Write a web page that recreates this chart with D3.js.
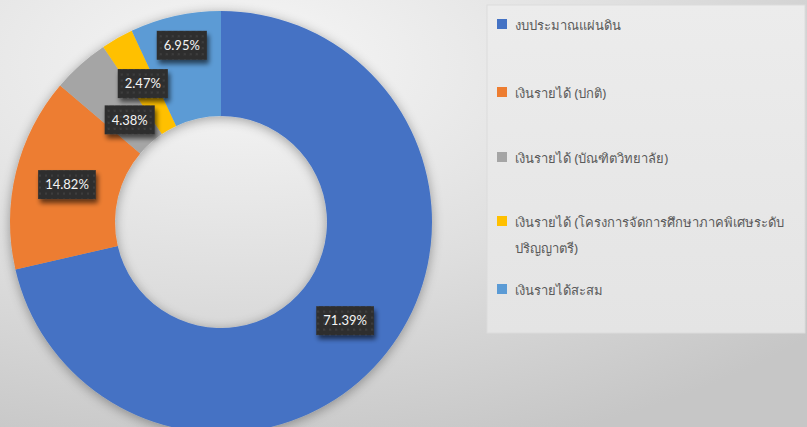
<!DOCTYPE html>
<html>
<head>
<meta charset="utf-8">
<script src="https://cdn.jsdelivr.net/npm/d3@7"></script>
<style>
  html, body { margin: 0; padding: 0; background: #d8d8d8; }
  svg { display: block; }
</style>
</head>
<body>
<svg id="chart" width="807" height="427"></svg>
<script>
// Budget sources (share of total, %)
const categories = [
  "งบประมาณแผ่นดิน",
  "เงินรายได้ (ปกติ)",
  "เงินรายได้ (บัณฑิตวิทยาลัย)",
  "เงินรายได้ (โครงการจัดการศึกษาภาคพิเศษระดับปริญญาตรี)",
  "เงินรายได้สะสม"
];
const values = [71.39, 14.82, 4.38, 2.47, 6.95];
const valueLabels = ["71.39%", "14.82%", "4.38%", "2.47%", "6.95%"];
const colors = ["#4472C4", "#ED7D31", "#A5A5A5", "#FFC000", "#5B9BD5"];

const W = 807, H = 427;
const svg = d3.select("#chart");
const defs = svg.append("defs");

// background wash
const bg = defs.append("radialGradient").attr("id", "bgGrad")
  .attr("cx", 0.3).attr("cy", 0.15).attr("r", 0.95);
bg.append("stop").attr("offset", "0%").attr("stop-color", "#f7f7f7");
bg.append("stop").attr("offset", "55%").attr("stop-color", "#dedede");
bg.append("stop").attr("offset", "100%").attr("stop-color", "#c6c6c6");
svg.append("rect").attr("width", W).attr("height", H).attr("fill", "url(#bgGrad)");

// soft shadow for the ring
const sh = defs.append("filter").attr("id", "ringShadow")
  .attr("x", "-20%").attr("y", "-20%").attr("width", "140%").attr("height", "140%");
sh.append("feGaussianBlur").attr("in", "SourceAlpha").attr("stdDeviation", 6).attr("result", "b");
sh.append("feOffset").attr("in", "b").attr("dx", 0).attr("dy", 2).attr("result", "o");
sh.append("feComponentTransfer").attr("in", "o").attr("result", "s")
  .append("feFuncA").attr("type", "linear").attr("slope", 0.35);
const shm = sh.append("feMerge");
shm.append("feMergeNode").attr("in", "s");
shm.append("feMergeNode").attr("in", "SourceGraphic");

// shadow for label boxes
const ls = defs.append("filter").attr("id", "boxShadow")
  .attr("x", "-30%").attr("y", "-40%").attr("width", "170%").attr("height", "190%");
ls.append("feGaussianBlur").attr("in", "SourceAlpha").attr("stdDeviation", 2.5).attr("result", "b");
ls.append("feOffset").attr("in", "b").attr("dx", 2).attr("dy", 4).attr("result", "o");
ls.append("feComponentTransfer").attr("in", "o").attr("result", "s")
  .append("feFuncA").attr("type", "linear").attr("slope", 0.6);
const lsm = ls.append("feMerge");
lsm.append("feMergeNode").attr("in", "s");
lsm.append("feMergeNode").attr("in", "SourceGraphic");

// dotted texture for label boxes
const pat = defs.append("pattern").attr("id", "dots")
  .attr("width", 6).attr("height", 6).attr("patternUnits", "userSpaceOnUse");
pat.append("rect").attr("width", 6).attr("height", 6).attr("fill", "#2f2f2f");
pat.append("circle").attr("cx", 3).attr("cy", 3).attr("r", 0.8).attr("fill", "#505050");

// legend panel
const lgX = 487, lgY = 5, lgW = 318, lgH = 328;
const lgGrad = defs.append("linearGradient").attr("id", "lgGrad")
  .attr("x1", 0).attr("y1", 0).attr("x2", 0).attr("y2", 1);
lgGrad.append("stop").attr("offset", "0%").attr("stop-color", "#ececec");
lgGrad.append("stop").attr("offset", "100%").attr("stop-color", "#e4e4e4");
svg.append("rect").attr("x", lgX).attr("y", lgY).attr("width", lgW).attr("height", lgH)
  .attr("fill", "url(#lgGrad)").attr("stroke", "#dcdcdc").attr("stroke-width", 1);

// donut
const cx = 221, cy = 222, outerR = 211, innerR = 106;
const pie = d3.pie().sort(null).value(d => d);
const arcs = pie(values);
const arc = d3.arc().innerRadius(innerR).outerRadius(outerR);

const g = svg.append("g").attr("transform", `translate(${cx},${cy})`);
g.append("g").attr("filter", "url(#ringShadow)")
  .selectAll("path").data(arcs).join("path")
  .attr("d", arc)
  .attr("fill", (d, i) => colors[i]);

// labels sit on the ring centroid; the narrow slices are nudged apart
const labelR = d3.scaleOrdinal().domain(d3.range(values.length))
  .range([(innerR + outerR) / 2, (innerR + outerR) / 2, 137, 159, 181]);
const boxH = 29;
const lab = g.append("g").selectAll("g").data(arcs).join("g")
  .attr("transform", (d, i) => {
    const a = (d.startAngle + d.endAngle) / 2;
    const r = labelR(i);
    return `translate(${r * Math.sin(a)},${-r * Math.cos(a)})`;
  });
lab.each(function(d, i) {
  const sel = d3.select(this);
  const t = sel.append("text")
    .attr("text-anchor", "middle").attr("dy", "0.36em")
    .attr("font-family", "Lato, 'Open Sans', sans-serif")
    .attr("font-size", 13).attr("font-weight", 400)
    .attr("fill", "#f4f4f4")
    .text(valueLabels[i]);
  const w = t.node().getComputedTextLength() + 14;
  sel.insert("rect", "text")
    .attr("x", -w / 2).attr("y", -boxH / 2).attr("width", w).attr("height", boxH)
    .attr("fill", "url(#dots)").attr("filter", "url(#boxShadow)");
});

// legend entries
const legendY = [25, 93, 158, 222, 290];
const legendLines = [
  [categories[0]],
  [categories[1]],
  [categories[2]],
  ["เงินรายได้ (โครงการจัดการศึกษาภาคพิเศษระดับ", "ปริญญาตรี)"],
  [categories[4]]
];
const lg = svg.append("g").selectAll("g").data(categories).join("g")
  .attr("transform", (d, i) => `translate(497,${legendY[i]})`);
lg.append("rect").attr("x", 0).attr("y", -6).attr("width", 10).attr("height", 10)
  .attr("fill", (d, i) => colors[i]);
lg.each(function(d, i) {
  const t = d3.select(this).append("text")
    .attr("x", 18).attr("y", 0)
    .attr("font-family", "Tahoma, 'Noto Sans', sans-serif")
    .attr("font-size", 13).attr("fill", "#5a5a5a");
  legendLines[i].forEach((line, k) => {
    t.append("tspan").attr("x", 18).attr("dy", k === 0 ? "0.35em" : "26px").text(line);
  });
});
</script>
</body>
</html>
